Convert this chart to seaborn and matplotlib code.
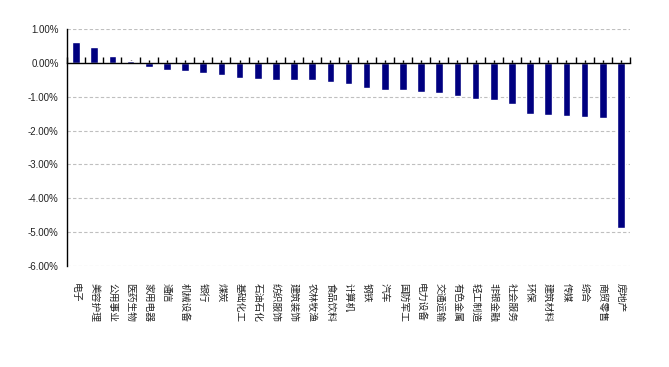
import matplotlib
matplotlib.use("Agg")
import matplotlib.pyplot as plt
import matplotlib.ticker as mticker
import seaborn as sns
import pandas as pd
import numpy as np

categories = ["电子", "美容护理", "公用事业", "医药生物", "家用电器", "通信", "机械设备", "银行",
              "煤炭", "基础化工", "石油石化", "纺织服饰", "建筑装饰", "农林牧渔", "食品饮料", "计算机",
              "钢铁", "汽车", "国防军工", "电力设备", "交通运输", "有色金属", "轻工制造", "非银金融",
              "社会服务", "环保", "建筑材料", "传媒", "综合", "商贸零售", "房地产"]
values = [0.63, 0.48, 0.19, 0.05, -0.11, -0.20, -0.23, -0.31,
          -0.36, -0.45, -0.48, -0.51, -0.51, -0.51, -0.57, -0.63,
          -0.75, -0.81, -0.81, -0.86, -0.89, -0.99, -1.07, -1.10,
          -1.22, -1.51, -1.54, -1.57, -1.60, -1.63, -4.89]
y_ticks = [1, 0, -1, -2, -3, -4, -5, -6]

sns.set_theme(style="white")
plt.rcParams['font.family'] = ['Liberation Sans', 'Noto Sans CJK SC', 'DejaVu Sans']

df = pd.DataFrame({"cat": categories, "val": values})

fig = plt.figure(figsize=(6.69, 3.67), dpi=100)
ax = fig.add_axes([67/669, 1 - 266/367, (630 - 67)/669, (266 - 29)/367])

sns.barplot(data=df, x="cat", y="val", color="#000080", width=0.42, saturation=1,
            ax=ax, zorder=3)

ax.set_ylim(y_ticks[-1], y_ticks[0])
ax.set_xlim(-0.5, len(categories) - 0.5)
ax.set_yticks(y_ticks)
ax.yaxis.set_major_formatter(mticker.FuncFormatter(lambda v, p: f"{v:.2f}%"))
ax.tick_params(axis='y', labelsize=7, length=0, pad=6, colors='#222222')
for t in y_ticks:
    if t != 0:
        ax.axhline(t, color='#BFBFBF', lw=0.8, ls=(0, (3, 2)), zorder=1)

ax.spines['top'].set_visible(False)
ax.spines['right'].set_visible(False)
ax.spines['left'].set_color('black')
ax.spines['left'].set_linewidth(1.0)
ax.spines['bottom'].set_position(('data', 0))
ax.spines['bottom'].set_color('black')
ax.spines['bottom'].set_linewidth(1.0)
ax.spines['bottom'].set_zorder(4)

n = len(categories)
ax.set_xticks(np.arange(n + 1) - 0.5)
ax.set_xticks(np.arange(n), minor=True)
ax.tick_params(axis='x', which='major', direction='in', length=4, width=1, color='black',
               labelbottom=False, bottom=True)
ax.tick_params(axis='x', which='minor', direction='in', length=2, width=1, color='black',
               labelbottom=False, bottom=True)
ax.set_xlabel("")
ax.set_ylabel("")

trans = ax.get_xaxis_transform()
for i, c in enumerate(categories):
    ax.text(i, -0.072, c, rotation=270, ha='center', va='top', fontsize=7,
            color='#222222', transform=trans, family=['Noto Sans CJK SC', 'DejaVu Sans'])

fig.savefig("out.png", dpi=100)
